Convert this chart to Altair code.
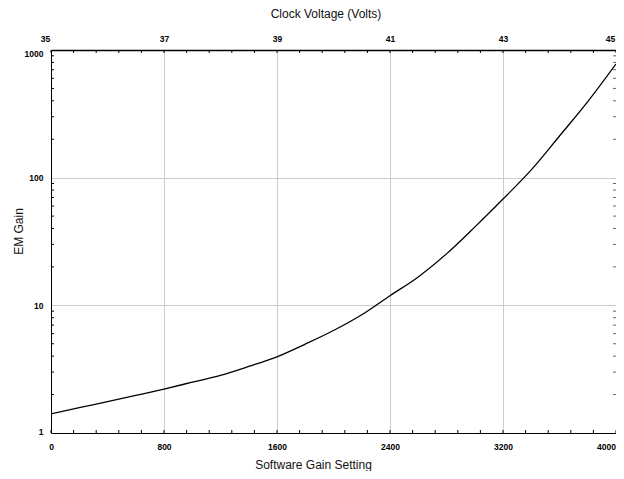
import altair as alt
import pandas as pd

# Curve (software gain setting -> EM gain)
gain = [0, 200, 400, 600, 800, 1000, 1200, 1400, 1600, 1800, 2000, 2200,
        2400, 2600, 2800, 3000, 3200, 3400, 3600, 3800, 4000]
em_gain = [1.41, 1.58, 1.76, 1.97, 2.21, 2.5, 2.83, 3.32, 3.95, 4.97, 6.35, 8.43,
           11.9, 16.7, 25.3, 41.0, 68.0, 115.0, 212.0, 394.0, 777.0]

x_major = [0, 800, 1600, 2400, 3200, 4000]
x_minor = [0, 160, 320, 480, 640, 800, 960, 1120, 1280, 1440, 1600, 1760, 1920,
           2080, 2240, 2400, 2560, 2720, 2880, 3040, 3200, 3360, 3520, 3680,
           3840, 4000]
y_major = [1, 10, 100, 1000]
y_minor = [2, 3, 4, 5, 6, 7, 8, 9, 20, 30, 40, 50, 60, 70, 80, 90,
           200, 300, 400, 500, 600, 700, 800, 900]

W, H = 565, 383
FONT = "Liberation Sans"
LBL = dict(labelFont=FONT, labelFontSize=8.5, labelFontWeight="bold", labelColor="black")
TTL = dict(titleFont=FONT, titleFontSize=12, titleFontWeight="normal", titleColor="#111111")

curve = pd.DataFrame({"gain": gain, "em": em_gain})
xmin_df = pd.DataFrame({"xv": x_minor})
ymin_df = pd.DataFrame({"yv": y_minor})

xscale = alt.Scale(domain=[0, 4000], nice=False, zero=False)
yscale = alt.Scale(type="log", domain=[1, 1000], nice=False)

line = alt.Chart(curve).mark_line(color="black", strokeWidth=1.3, interpolate="monotone", clip=True).encode(
    x=alt.X("gain:Q", scale=xscale, axis=alt.Axis(
        orient="bottom", values=x_major, format="d", title="Software Gain Setting",
        grid=True, gridColor="#cccccc", gridWidth=1, ticks=False, tickSize=0,
        labelPadding=9, labelFlush=False,
        labelOffset={"condition": {"test": "datum.value == 4000", "value": -10}, "value": 0},
        domainColor="black", domainWidth=1,
        titleX=262, titleY=35, titleBaseline="alphabetic", titleAlign="center", **LBL, **TTL)),
    y=alt.Y("em:Q", scale=yscale, axis=alt.Axis(
        orient="left", values=y_major, format="d", title="EM Gain",
        grid=True, gridColor="#cccccc", gridWidth=1, ticks=False, tickSize=0,
        labelPadding=8, labelFlush=False,
        labelOffset={"condition": [{"test": "datum.value == 1000", "value": 3},
                                   {"test": "datum.value == 1", "value": -1.5}], "value": 0},
        domainColor="black", domainWidth=1,
        titleX=-28.5, titleY=181, titleBaseline="alphabetic", titleAlign="center", titleAngle=270,
        **LBL, **TTL)),
)

top_ticks = alt.Chart(xmin_df).mark_rule(color="black", strokeWidth=1).encode(
    x=alt.X("xv:Q", scale=xscale, axis=alt.Axis(
        orient="top", values=x_major, labelExpr="format(35 + datum.value / 400, 'd')",
        title="Clock Voltage (Volts)", grid=False, ticks=False, tickSize=0,
        labelPadding=7, labelFlush=False,
        labelOffset={"condition": [{"test": "datum.value == 0", "value": -6},
                                   {"test": "datum.value == 4000", "value": -6}], "value": 0},
        domainColor="black", domainWidth=1.5,
        titleX=274.5, titleY=-32.7, titleBaseline="alphabetic", titleAlign="center", **LBL, **TTL)),
    y=alt.value(0), y2=alt.value(3),
)

bottom_ticks = alt.Chart(xmin_df).mark_rule(color="black", strokeWidth=1).encode(
    x=alt.X("xv:Q", scale=xscale, axis=None),
    y=alt.value(H), y2=alt.value(H - 3),
)

left_ticks = alt.Chart(ymin_df).mark_rule(color="black", strokeWidth=1).encode(
    y=alt.Y("yv:Q", scale=yscale, axis=None),
    x=alt.value(0), x2=alt.value(3),
)

right_ticks = alt.Chart(ymin_df).mark_rule(color="#666666", strokeWidth=1).encode(
    y=alt.Y("yv:Q", scale=yscale, axis=None),
    x=alt.value(W - 3), x2=alt.value(W),
)

chart = alt.layer(line, top_ticks, bottom_ticks, left_ticks, right_ticks).resolve_axis(
    x="independent", y="independent"
).properties(
    width=W, height=H,
    autosize=alt.AutoSizeParams(type="none"),
    padding={"left": 43, "top": 42, "right": 0, "bottom": 38},
    background="white",
).configure_view(stroke=None)

chart.save("out.html", embed_options={"renderer": "svg", "actions": False})
